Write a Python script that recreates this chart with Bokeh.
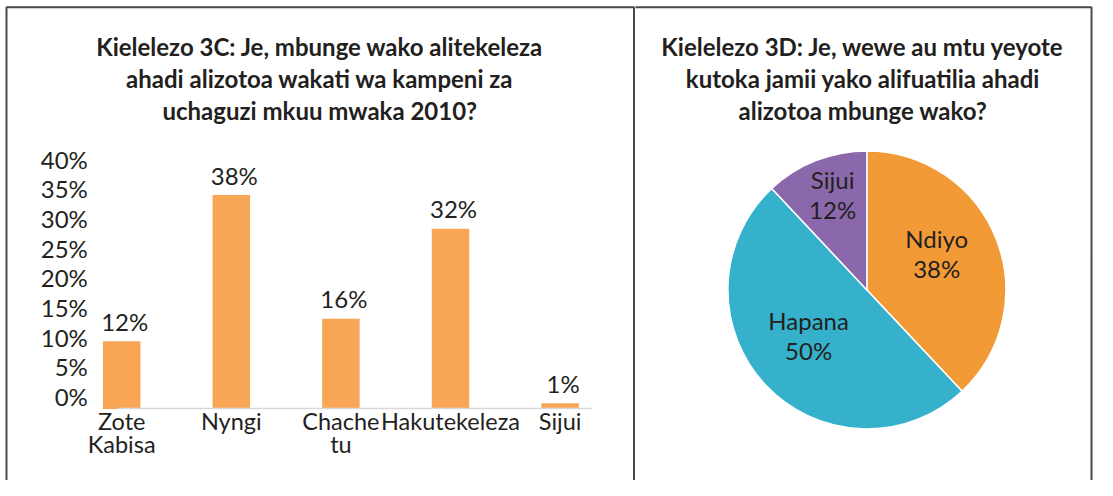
import numpy as np
from bokeh.plotting import figure
from bokeh.layouts import row
from bokeh.models import Range1d, LinearAxis, FixedTicker, ColumnDataSource, Label, BoxAnnotation
from bokeh.core.properties import value
from bokeh.embed import file_html
from bokeh.resources import INLINE

# ---------------- data ----------------
bar_categories = ["Zote\nKabisa", "Nyngi", "Chache\ntu", "Hakutekeleza", "Sijui"]
bar_values = [12, 38, 16, 32, 1]
bar_labels = ["12%", "38%", "16%", "32%", "1%"]
y_ticks = [0, 5, 10, 15, 20, 25, 30, 35, 40]
y_tick_labels = ["0%", "5%", "10%", "15%", "20%", "25%", "30%", "35%", "40%"]
bar_title = ["Kielelezo 3C: Je, mbunge wako alitekeleza",
             "ahadi alizotoa wakati wa kampeni za",
             "uchaguzi mkuu mwaka 2010?"]

pie_categories = ["Ndiyo", "Hapana", "Sijui"]
pie_values = [38, 50, 12]
pie_labels = ["38%", "50%", "12%"]
pie_title = ["Kielelezo 3D: Je, wewe au mtu yeyote",
             "kutoka jamii yako alifuatilia ahadi",
             "alizotoa mbunge wako?"]

# ---------------- style / layout ----------------
FONT = "Lato"
TXT = "#231F20"
BAR_COLOR = "#F8A656"
PIE_COLORS = ["#F29B36", "#35B1CC", "#8A68AB"]
PIE_LABEL_R = [0.54, 0.575, 0.67]
BORDER = "#4A4A4A"
W1, W2, H = 635, 462, 480
TITLE_Y = [434, 402, 370]          # baselines, px from bottom of panel

# bar panel pixel geometry (px from panel left / top)
X0, DX = 121.2, 109.6              # first category centre, spacing
BASE, PX_UNIT = 408.4, 5.628       # baseline, px per percent (bars)
TICK0, PX_TICK = 395.8, 5.927      # tick axis: 0% position, px per percent
AX_LEFT, AX_RIGHT = 117.3, 591.4

def xd(px):
    return (px - X0) / DX

# ---------------- bar chart ----------------
xs = list(range(len(bar_categories)))
p1 = figure(width=W1, height=H, output_backend="svg", toolbar_location=None,
            x_range=Range1d(xd(0), xd(W1)),
            y_range=Range1d(-(H - BASE) / PX_UNIT, BASE / PX_UNIT),
            x_axis_location=None, y_axis_location=None, min_border=0)
p1.title = None
p1.grid.visible = False
p1.outline_line_color = None
p1.border_fill_color = None
p1.background_fill_color = None

p1.extra_y_ranges = {"pct": Range1d(-(H - TICK0) / PX_TICK, TICK0 / PX_TICK)}
yaxis = LinearAxis(y_range_name="pct", ticker=FixedTicker(ticks=y_ticks),
                   major_label_overrides={t: l for t, l in zip(y_ticks, y_tick_labels)},
                   fixed_location=xd(AX_LEFT))
yaxis.axis_line_color = None
yaxis.major_tick_line_color = None
yaxis.minor_tick_line_color = None
yaxis.major_label_standoff = 24
yaxis.major_label_text_font = FONT
yaxis.major_label_text_font_size = "24px"
yaxis.major_label_text_color = TXT
p1.add_layout(yaxis, "left")

xaxis = LinearAxis(ticker=FixedTicker(ticks=xs),
                   major_label_overrides={i: c for i, c in zip(xs, bar_categories)},
                   fixed_location=0, bounds=(xd(AX_LEFT), xd(AX_RIGHT)))
xaxis.axis_line_color = "#D9D9D9"
xaxis.axis_line_width = 1.5
xaxis.major_tick_line_color = None
xaxis.minor_tick_line_color = None
xaxis.major_label_standoff = -8
xaxis.major_label_text_font = FONT
xaxis.major_label_text_font_size = "23.5px"
xaxis.major_label_text_color = TXT
xaxis.major_label_text_line_height = 0.82
p1.add_layout(xaxis, "below")

src1 = ColumnDataSource(dict(x=xs, top=bar_values, lab=bar_labels))
p1.vbar(x="x", top="top", width=0.342, source=src1, fill_color=BAR_COLOR, line_color=None)
p1.text(x="x", y="top", text="lab", source=src1, text_align="center",
        text_baseline="alphabetic", y_offset=-20, x_offset=3,
        text_font=value(FONT), text_font_size="24px", text_color=TXT)

for line, ty in zip(bar_title, TITLE_Y):
    p1.add_layout(Label(x=319.3, y=ty, x_units="screen", y_units="screen", text=line,
                        text_align="center", text_baseline="alphabetic",
                        text_font=FONT, text_font_size="24px", text_font_style="bold",
                        text_color=TXT))

p1.add_layout(BoxAnnotation(left=6, right=633.5, bottom=-20, top=473.2,
                            left_units="screen", right_units="screen",
                            bottom_units="screen", top_units="screen",
                            fill_color=None, fill_alpha=0, line_color=BORDER,
                            line_alpha=1, line_width=2))

# ---------------- pie chart ----------------
R_PX = 139.0
CX, CY = 231.4, 190.6               # pie centre, px from panel left / bottom
p2 = figure(width=W2, height=H, output_backend="svg", toolbar_location=None,
            x_range=Range1d(-CX / R_PX, (W2 - CX) / R_PX),
            y_range=Range1d(-CY / R_PX, (H - CY) / R_PX),
            x_axis_location=None, y_axis_location=None, min_border=0)
p2.title = None
p2.grid.visible = False
p2.outline_line_color = None
p2.border_fill_color = None
p2.background_fill_color = None

vals = np.array(pie_values, dtype=float)
frac = vals / vals.sum()
cum = np.cumsum(frac)
starts = np.pi / 2 - 2 * np.pi * np.concatenate([[0], cum[:-1]])
ends = np.pi / 2 - 2 * np.pi * cum
mids = (starts + ends) / 2
lr = np.array(PIE_LABEL_R)
src2 = ColumnDataSource(dict(start=starts, end=ends, color=PIE_COLORS,
                             name=pie_categories, pct=pie_labels,
                             lx=lr * np.cos(mids), ly=lr * np.sin(mids)))
p2.wedge(x=0, y=0, radius=1, start_angle="start", end_angle="end", direction="clock",
         fill_color="color", line_color="white", line_width=1.5, source=src2)
p2.text(x="lx", y="ly", text="name", source=src2, text_align="center",
        text_baseline="alphabetic", y_offset=-24,
        text_font=value(FONT), text_font_size="24px", text_color=TXT)
p2.text(x="lx", y="ly", text="pct", source=src2, text_align="center",
        text_baseline="alphabetic", y_offset=6,
        text_font=value(FONT), text_font_size="24px", text_color=TXT)

for line, ty in zip(pie_title, TITLE_Y):
    p2.add_layout(Label(x=227.4, y=ty, x_units="screen", y_units="screen", text=line,
                        text_align="center", text_baseline="alphabetic",
                        text_font=FONT, text_font_size="24px", text_font_style="bold",
                        text_color=TXT))

p2.add_layout(BoxAnnotation(left=-20, right=456, bottom=-20, top=473.2,
                            left_units="screen", right_units="screen",
                            bottom_units="screen", top_units="screen",
                            fill_color=None, fill_alpha=0, line_color=BORDER,
                            line_alpha=1, line_width=2))

layout = row(p1, p2, spacing=0)
open("out.html", "w").write(file_html(layout, INLINE))
